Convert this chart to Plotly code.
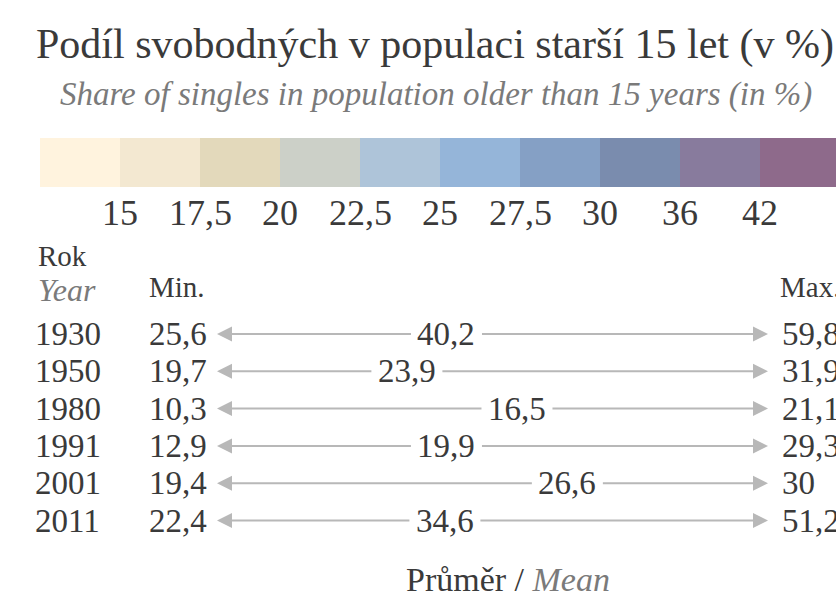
import plotly.graph_objects as go

# ---------------- data ----------------
years = ["1930", "1950", "1980", "1991", "2001", "2011"]
min_vals = [25.6, 19.7, 10.3, 12.9, 19.4, 22.4]
mean_vals = [40.2, 23.9, 16.5, 19.9, 26.6, 34.6]
max_vals = [59.8, 31.9, 21.1, 29.3, 30.0, 51.2]

scale_breaks = ["15", "17,5", "20", "22,5", "25", "27,5", "30", "36", "42"]
scale_colors = ["#FFF3DE", "#F3E8D1", "#E3D9BB", "#CCD0C8", "#AEC4D9",
                "#95B5D9", "#85A0C5", "#7A8CAE", "#887B9D", "#8E6A8B"]

title_cz = "Podíl svobodných v populaci starší 15 let (v %)"
title_en = "Share of singles in population older than 15 years (in %)"


def fmt(v):
    s = ("%.1f" % v).replace(".", ",")
    return s[:-2] if s.endswith(",0") else s


# ---------------- layout constants ----------------
W, H = 836, 599
FONT = "Liberation Serif"
DARK = "#3a3a3a"
GREY = "#7a7a7a"
LINE = "#b8b8b8"

bar_x0, bar_w, bar_top, bar_h = 40, 80, 138, 49
row_y0, row_dy = 334, 37.3
arrow_l, arrow_r = 217, 768
inner_l, inner_r = 242, 721

fig = go.Figure()

# colour scale bar
fig.add_trace(go.Bar(
    x=[bar_x0 + bar_w * (i + 0.5) for i in range(len(scale_colors))],
    y=[bar_h] * len(scale_colors),
    base=[bar_top] * len(scale_colors),
    width=[bar_w] * len(scale_colors),
    marker=dict(color=scale_colors, line=dict(width=0)),
    hoverinfo="skip", showlegend=False,
))

ann = []


def text(x, y, s, size, color=DARK, xanchor="center", italic=False):
    ann.append(dict(x=x, y=y, xref="x", yref="y", text=s, showarrow=False,
                    xanchor=xanchor, yanchor="middle",
                    font=dict(family=FONT, size=size, color=color,
                              style="italic" if italic else "normal")))


text(435, 44, title_cz, 42)
text(436, 94, title_en, 33, GREY, italic=True)

for i, lab in enumerate(scale_breaks):
    text(bar_x0 + bar_w * (i + 1), 213, lab, 36)

text(36, 256, "Rok", 29, xanchor="left")
text(36, 290, "Year", 32, GREY, xanchor="left", italic=True)
text(147, 287, "Min.", 29, xanchor="left")
text(778, 287, "Max.", 29, xanchor="left")

for i, yr in enumerate(years):
    y = row_y0 + row_dy * i
    text(33, y, yr, 33, xanchor="left")
    text(147, y, fmt(min_vals[i]), 33, xanchor="left")
    text(780, y, fmt(max_vals[i]), 33, xanchor="left")
    frac = (mean_vals[i] - min_vals[i]) / (max_vals[i] - min_vals[i])
    xm = inner_l + frac * (inner_r - inner_l)
    text(xm, y, fmt(mean_vals[i]), 33)
    half = 34
    ann.append(dict(x=arrow_l, y=y, ax=xm - half, ay=y, xref="x", yref="y",
                    axref="x", ayref="y", text="", showarrow=True,
                    arrowhead=2, arrowsize=1.5, arrowwidth=2, arrowcolor=LINE))
    ann.append(dict(x=arrow_r, y=y, ax=xm + half, ay=y, xref="x", yref="y",
                    axref="x", ayref="y", text="", showarrow=True,
                    arrowhead=2, arrowsize=1.5, arrowwidth=2, arrowcolor=LINE))

ann.append(dict(x=508, y=579, xref="x", yref="y", showarrow=False,
                text="Průměr / <i><span style='color:%s'>Mean</span></i>" % GREY,
                font=dict(family=FONT, size=34, color=DARK)))

fig.update_layout(
    width=W, height=H,
    margin=dict(l=0, r=0, t=0, b=0),
    paper_bgcolor="white", plot_bgcolor="white",
    xaxis=dict(range=[0, W], visible=False, fixedrange=True),
    yaxis=dict(range=[H, 0], visible=False, fixedrange=True),
    annotations=ann,
    bargap=0,
)

fig.write_html("out.html", config={"displayModeBar": False},
               post_script="document.body.style.margin='0';document.body.style.overflow='hidden';")
